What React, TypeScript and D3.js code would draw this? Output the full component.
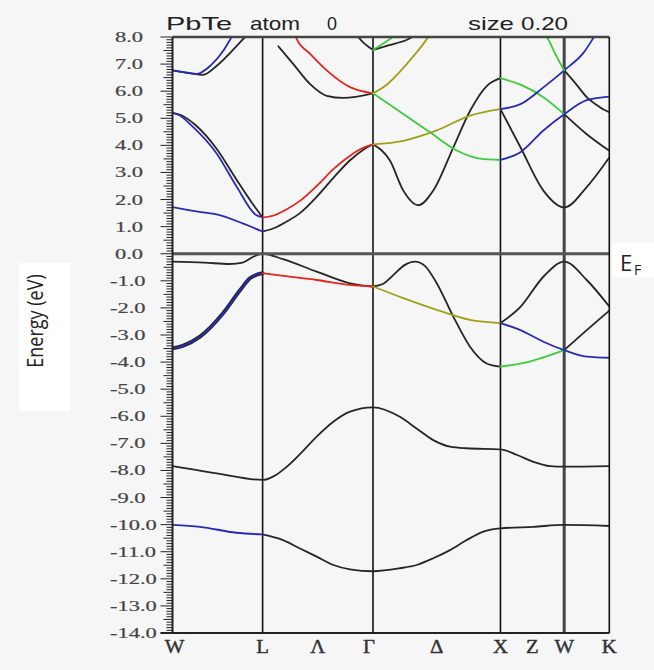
import React from "react";
import * as d3 from "d3";

const WIDTH = 654;
const HEIGHT = 670;

// k-path (units of 2π/a) and labels
const symLabels = ["W", "L", "Γ", "X", "W", "K"];
const symK = [0, 0.707, 1.573, 2.573, 3.073, 3.427];
const midLabels = ["Λ", "Δ", "Z"];
const midPairs = [[1, 2], [2, 3], [3, 4]];
const yTicks = [8, 7, 6, 5, 4, 3, 2, 1, 0, -1, -2, -3, -4, -5, -6, -7, -8, -9, -10, -11, -12, -13, -14];

const BLUE = "#2a2ab8";
const RED = "#e5231f";
const GREEN = "#3ccd3c";
const OLIVE = "#a0a018";
const BLACK = "#262626";

type P = [number, number];

// ---- conduction bands ----
const cW1Blue: P[] = [[0, 6.77], [0.12, 6.68], [0.19, 6.64], [0.3, 6.95], [0.4, 7.5], [0.465, 8.0], [0.48, 8.1]];
const cW1Black: P[] = [[0, 6.77], [0.14, 6.66], [0.239, 6.6], [0.35, 6.95], [0.48, 7.55], [0.569, 8.0], [0.59, 8.1]];
const cW2Blue: P[] = [[0, 5.2], [0.05, 5.12], [0.163, 4.67], [0.346, 3.7], [0.504, 2.47], [0.65, 1.45], [0.707, 1.34]];
const cW2Black: P[] = [[0, 5.2], [0.06, 5.13], [0.18, 4.75], [0.35, 3.85], [0.5, 2.75], [0.62, 1.9], [0.707, 1.34]];
const cW3Blue: P[] = [[0, 1.72], [0.2, 1.55], [0.346, 1.45], [0.55, 1.12], [0.707, 0.82]];
const cLRed: P[] = [[0.707, 1.34], [0.8, 1.42], [0.9, 1.65], [1.0, 1.95], [1.131, 2.5], [1.262, 3.12], [1.393, 3.62], [1.5, 3.92], [1.573, 4.04]];
const cLBlack: P[] = [[0.707, 0.82], [0.8, 0.95], [0.9, 1.2], [1.0, 1.5], [1.131, 2.1], [1.262, 2.8], [1.393, 3.45], [1.5, 3.85], [1.573, 4.04]];
const cGRedTop: P[] = [[0.96, 8.1], [0.974, 7.93], [1.08, 7.38], [1.21, 6.77], [1.393, 6.15], [1.573, 5.92]];
const cGBlackTop: P[] = [[0.83, 7.66], [0.948, 7.0], [1.08, 6.26], [1.21, 5.83], [1.34, 5.75], [1.573, 5.92]];
const cGVLeft: P[] = [[1.44, 8.1], [1.5, 7.78], [1.573, 7.52]];
const cGVRight: P[] = [[1.573, 7.52], [1.7, 7.7], [1.84, 7.9], [1.92, 8.1]];
const cGGreenTop: P[] = [[1.573, 7.52], [1.65, 7.75], [1.73, 8.0], [1.76, 8.1]];
const cGOliveUp: P[] = [[1.573, 5.92], [1.68, 6.24], [1.784, 6.72], [1.9, 7.35], [1.981, 7.83], [2.02, 8.1]];
const cGGreenDown: P[] = [[1.573, 5.92], [1.811, 5.16], [2.02, 4.48], [2.23, 3.81], [2.413, 3.51], [2.573, 3.46]];
const cGOlive: P[] = [[1.573, 4.04], [1.811, 4.17], [2.073, 4.55], [2.334, 5.1], [2.573, 5.34]];
const cGBlack: P[] = [[1.573, 4.04], [1.707, 3.43], [1.811, 2.33], [1.929, 1.79], [2.046, 2.33], [2.203, 3.92], [2.334, 5.27], [2.465, 6.19], [2.573, 6.48]];
const cXGreen: P[] = [[2.573, 6.48], [2.73, 6.24], [2.91, 5.78], [3.073, 5.15]];
const cXBlueLow: P[] = [[2.573, 3.46], [2.73, 3.75], [2.91, 4.55], [3.073, 5.15], [3.25, 5.67], [3.427, 5.8]];
const cXBlueHigh: P[] = [[2.573, 5.34], [2.73, 5.52], [2.91, 6.14], [3.073, 6.77], [3.23, 7.45], [3.3, 7.95], [3.32, 8.1]];
const cWGreenTop: P[] = [[2.92, 8.1], [2.95, 7.9], [2.99, 7.5], [3.073, 6.77]];
const cWBlackA: P[] = [[3.073, 6.77], [3.16, 6.3], [3.25, 5.78], [3.35, 5.42], [3.427, 5.22]];
const cWBlackB: P[] = [[3.073, 5.15], [3.25, 4.41], [3.427, 3.8]];
const cXBlack: P[] = [[2.573, 5.34], [2.73, 3.93], [2.91, 2.33], [3.073, 1.71], [3.25, 2.46], [3.427, 3.55]];

// ---- valence bands ----
const vTopBlack: P[] = [[0, -0.29], [0.25, -0.33], [0.45, -0.38], [0.55, -0.33], [0.63, -0.12], [0.707, 0.0], [0.867, -0.2], [1.131, -0.66], [1.393, -1.09], [1.573, -1.21]];
const vWBlue: P[] = [[0, -3.49], [0.08, -3.4], [0.216, -3.06], [0.397, -2.2], [0.531, -1.34], [0.61, -0.9], [0.707, -0.72]];
const vLRed: P[] = [[0.707, -0.72], [0.87, -0.82], [1.131, -0.97], [1.393, -1.15], [1.573, -1.21]];
const vGBlack: P[] = [[1.573, -1.21], [1.65, -1.12], [1.73, -0.8], [1.82, -0.42], [1.903, -0.29], [1.98, -0.45], [2.073, -1.09], [2.203, -2.32], [2.334, -3.43], [2.465, -4.05], [2.573, -4.17]];
const vGOlive: P[] = [[1.573, -1.21], [1.811, -1.64], [2.073, -2.07], [2.334, -2.44], [2.573, -2.56]];
const vXGreen: P[] = [[2.573, -4.17], [2.8, -3.98], [3.073, -3.56]];
const vXBlue: P[] = [[2.573, -2.56], [2.73, -2.82], [2.91, -3.25], [3.073, -3.56], [3.25, -3.8], [3.427, -3.84]];
const vXBlack: P[] = [[2.573, -2.56], [2.73, -1.96], [2.91, -0.85], [3.073, -0.29], [3.25, -0.97], [3.427, -1.95]];
const vWBlack: P[] = [[3.073, -3.56], [3.25, -2.82], [3.427, -2.1]];

// ---- low-lying bands ----
const sBand: P[] = [[0, -7.84], [0.349, -8.11], [0.707, -8.35], [0.8, -8.2], [0.9, -7.85], [1.0, -7.4], [1.131, -6.75], [1.262, -6.2], [1.393, -5.83], [1.573, -5.67], [1.784, -6.02], [1.915, -6.45], [2.046, -6.88], [2.177, -7.12], [2.308, -7.18], [2.573, -7.22], [2.705, -7.43], [2.831, -7.68], [2.962, -7.84], [3.073, -7.86], [3.427, -7.84]];
const deepBlue: P[] = [[0, -10.01], [0.216, -10.08], [0.5, -10.3], [0.707, -10.36]];
const deepBlack: P[] = [[0.707, -10.36], [0.867, -10.57], [1.0, -10.88], [1.131, -11.18], [1.262, -11.49], [1.393, -11.65], [1.573, -11.72], [1.784, -11.61], [1.915, -11.49], [2.046, -11.24], [2.177, -10.94], [2.308, -10.57], [2.439, -10.26], [2.573, -10.14], [2.831, -10.08], [3.073, -10.01], [3.427, -10.05]];

const bands: { pts: P[]; color: string; w?: number }[] = [
  { pts: cW1Black, color: BLACK },
  { pts: cW2Black, color: BLACK },
  { pts: cLBlack, color: BLACK },
  { pts: cGBlackTop, color: BLACK },
  { pts: cGVLeft, color: BLACK },
  { pts: cGVRight, color: BLACK },
  { pts: cGBlack, color: BLACK },
  { pts: cWBlackA, color: BLACK },
  { pts: cWBlackB, color: BLACK },
  { pts: cXBlack, color: BLACK },
  { pts: vTopBlack, color: BLACK },
  { pts: vWBlue, color: BLACK, w: 3.8 },
  { pts: vGBlack, color: BLACK },
  { pts: vXBlack, color: BLACK },
  { pts: vWBlack, color: BLACK },
  { pts: sBand, color: BLACK },
  { pts: deepBlack, color: BLACK },
  { pts: cW1Blue, color: BLUE },
  { pts: cW2Blue, color: BLUE },
  { pts: cW3Blue, color: BLUE },
  { pts: cLRed, color: RED },
  { pts: cGRedTop, color: RED },
  { pts: cGGreenTop, color: GREEN },
  { pts: cGOliveUp, color: OLIVE },
  { pts: cGGreenDown, color: GREEN },
  { pts: cGOlive, color: OLIVE },
  { pts: cXGreen, color: GREEN },
  { pts: cXBlueLow, color: BLUE },
  { pts: cXBlueHigh, color: BLUE },
  { pts: cWGreenTop, color: GREEN },
  { pts: vWBlue, color: BLUE, w: 1.8 },
  { pts: vLRed, color: RED },
  { pts: vGOlive, color: OLIVE },
  { pts: vXGreen, color: GREEN },
  { pts: vXBlue, color: BLUE },
  { pts: deepBlue, color: BLUE },
];

export default function App() {
  const left = 172.5, right = 609.3, top = 37, bottom = 633;
  const x = d3.scaleLinear().domain([symK[0], symK[symK.length - 1]]).range([left, right]);
  const y = d3.scaleLinear().domain([-14, 8]).range([bottom, top]);
  const line = d3
    .line<P>()
    .x((d) => x(d[0]))
    .y((d) => y(d[1]))
    .curve(d3.curveMonotoneX);

  const minor = d3.range(-140, 81);

  return (
    <svg
      width={WIDTH}
      height={HEIGHT}
      style={{ position: "absolute", left: 0, top: 0, background: "#f6f6f6" }}
    >
      <defs>
        <clipPath id="plotclip">
          <rect x={left} y={top} width={right - left} height={bottom - top} />
        </clipPath>
      </defs>
      <rect x={0} y={0} width={WIDTH} height={HEIGHT} fill="#f6f6f6" />

      {/* title */}
      <g fontFamily="Liberation Sans, Arial, sans-serif" fontSize={19} fill="#222">
        <text x={166} y={30} textLength={66} lengthAdjust="spacingAndGlyphs">PbTe</text>
        <text x={250} y={30} textLength={50} lengthAdjust="spacingAndGlyphs">atom</text>
        <text x={327} y={30} textLength={10} lengthAdjust="spacingAndGlyphs">0</text>
        <text x={468} y={30} textLength={46} lengthAdjust="spacingAndGlyphs">size</text>
        <text x={521} y={30} textLength={47} lengthAdjust="spacingAndGlyphs">0.20</text>
      </g>

      {/* y ticks */}
      {minor.map((i) => {
        const len = i % 10 === 0 ? 12 : i % 5 === 0 ? 9 : 6;
        const yy = y(i / 10);
        return <line key={i} x1={left - len} x2={left} y1={yy} y2={yy} stroke="#222" strokeWidth={1} />;
      })}
      {yTicks.map((v) => (
        <g key={v} transform={`translate(${v < 0 ? 110 : 115},${y(v) + 5}) scale(1.5,1)`}>
          <text x={0} y={0} fontFamily="Liberation Serif, Times New Roman, serif" fontSize={15} fill="#444" stroke="#444" strokeWidth={0.2}>
            {v.toFixed(1)}
          </text>
        </g>
      ))}

      {/* vertical symmetry lines */}
      {symK.slice(1, 5).map((k, i) => (
        <line
          key={i}
          x1={x(k)}
          x2={x(k)}
          y1={top}
          y2={bottom}
          stroke={i === 3 ? "#444" : "#111"}
          strokeWidth={i === 3 ? 3 : 1.6}
        />
      ))}

      {/* bands */}
      <g clipPath="url(#plotclip)" fill="none" strokeLinejoin="round" strokeLinecap="round">
        {bands.map((b, i) => (
          <path key={i} d={line(b.pts) || ""} stroke={b.color} strokeWidth={b.w ?? 1.8} />
        ))}
      </g>

      {/* Fermi level */}
      <line x1={left} x2={right} y1={y(0)} y2={y(0)} stroke="#555" strokeWidth={3} />

      {/* frame */}
      <line x1={left} x2={right} y1={top} y2={top} stroke="#444" strokeWidth={2.5} />
      <line x1={left - 12} x2={right} y1={bottom} y2={bottom} stroke="#222" strokeWidth={2} />
      <line x1={left} x2={left} y1={top} y2={bottom} stroke="#222" strokeWidth={2} />
      <line x1={right} x2={right} y1={top} y2={bottom} stroke="#111" strokeWidth={1.6} />

      {/* k labels */}
      <g fontFamily="Liberation Serif, Times New Roman, serif" fontSize={18} fill="#333" stroke="#333" strokeWidth={0.4}>
        {symLabels.map((s, i) => (
          <g key={"s" + i} transform={`translate(${x(symK[i]) + (i === 2 ? -4 : i === 0 ? 2 : 0)},653) scale(1.15,1)`}>
            <text textAnchor="middle">{s}</text>
          </g>
        ))}
        {midLabels.map((s, i) => (
          <g key={"m" + i} transform={`translate(${x((symK[midPairs[i][0]] + symK[midPairs[i][1]]) / 2)},653) scale(1.15,1)`}>
            <text textAnchor="middle">{s}</text>
          </g>
        ))}
      </g>

      {/* Energy label */}
      <rect x={19} y={263} width={51} height={148} fill="#ffffff" />
      <g transform="translate(43,321) scale(1.2,1) rotate(-90)">
        <text textAnchor="middle" fontFamily="Open Sans, sans-serif" fontSize={18} fill="#222">
          Energy (eV)
        </text>
      </g>

      {/* E_F label */}
      <rect x={612} y={243} width={42} height={34} fill="#ffffff" />
      <text x={620} y={271} fontFamily="Open Sans, sans-serif" fontSize={22} fill="#222">E</text>
      <text x={634} y={275} fontFamily="Open Sans, sans-serif" fontSize={14} fill="#222">F</text>
    </svg>
  );
}
